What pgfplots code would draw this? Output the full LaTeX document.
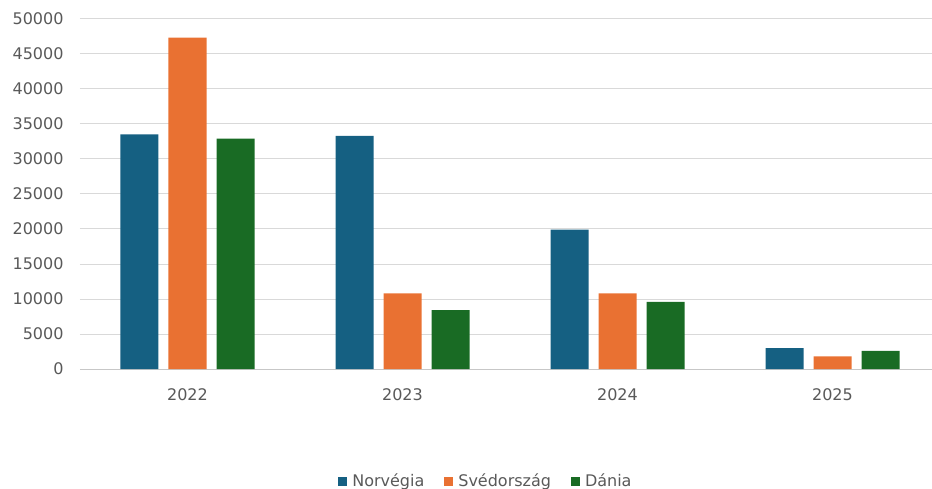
\documentclass[border=0pt]{standalone}
\usepackage{pgfplots}
\pgfplotsset{compat=1.18}
\usepackage{fontspec}
\setmainfont{DejaVu Sans}
\definecolor{cblue}{HTML}{156082}
\definecolor{corange}{HTML}{E97132}
\definecolor{cgreen}{HTML}{196B24}
\definecolor{ctext}{HTML}{595959}
\definecolor{cgrid}{HTML}{D9D9D9}
\begin{document}
\begin{tikzpicture}
\useasboundingbox (-80bp,-120bp) rectangle (852bp,369bp);
\begin{axis}[
  scale only axis,
  width=860bp, height=350bp,
  ybar=10bp, bar width=38bp,
  xmin=-0.5, xmax=3.5,
  ymin=0, ymax=50000,
  ytick={0,5000,...,50000},
  xtick=data,
  xticklabels={2022,2023,2024,2025},
  scaled y ticks=false,
  /pgf/number format/assume math mode=true,
  yticklabel={\pgfmathprintnumber[fixed,1000 sep={}]{\tick}},
  tick style={draw=none},
  ymajorgrids,
  major grid style={cgrid, line width=1bp},
  axis x line*=bottom,
  axis y line*=left,
  x axis line style={draw=cgrid!80!gray, line width=1bp},
  y axis line style={draw=none},
  ticklabel style={font=\fontsize{16bp}{19bp}\selectfont, text=ctext},
  yticklabel style={xshift=-13bp},
  xticklabel style={yshift=-12bp},
  legend columns=3,
  legend style={draw=none, fill=none, at={(0.472,0)}, anchor=center, yshift=-112bp,
    font=\fontsize{16bp}{19bp}\selectfont, text=ctext,
    /tikz/every odd column/.append style={column sep=3bp},
    /tikz/every even column/.append style={column sep=18bp}},
  legend image code/.code={\fill[#1] (0bp,-4.5bp) rectangle (9bp,4.5bp);},
]
\addplot[fill=cblue, draw=none] coordinates {(0,33500) (1,33300) (2,19900) (3,3000)};
\addplot[fill=corange, draw=none] coordinates {(0,47350) (1,10800) (2,10800) (3,1800)};
\addplot[fill=cgreen, draw=none] coordinates {(0,32900) (1,8400) (2,9600) (3,2600)};
\legend{Norvégia, Svédország, Dánia}
\end{axis}
\end{tikzpicture}
\end{document}
